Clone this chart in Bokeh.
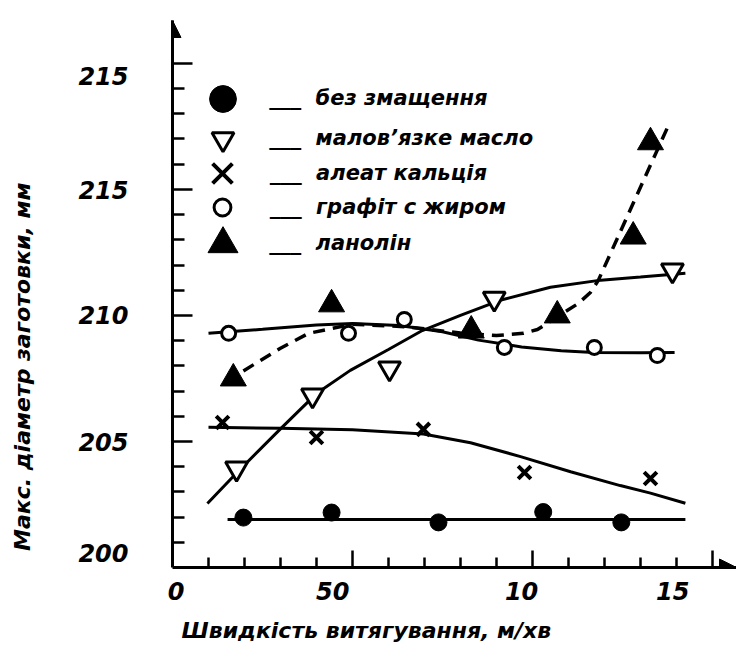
from bokeh.plotting import figure
from bokeh.models import (LinearAxis, FixedTicker, Range1d, Legend, LegendItem,
                          Arrow, NormalHead)
from bokeh.embed import file_html
from bokeh.resources import INLINE

# ---------------- data ----------------
# без змащення (filled circles)
nolub_x = [1.97, 4.42, 7.39, 10.3, 12.47]
nolub_y = [201.98, 202.18, 201.79, 202.2, 201.79]
nolub_fit_x = [1.53, 14.25]
nolub_fit_y = [201.9, 201.9]

# малов'язке масло (open down-triangles)
oil_x = [1.78, 3.89, 6.03, 8.94, 13.89]
oil_y = [203.93, 206.83, 207.9, 210.67, 211.79]
oil_fit_x = [0.97, 1.78, 3.0, 4.0, 4.94, 6.0, 6.94, 8.0, 9.1, 10.5, 11.9, 13.0, 14.25]
oil_fit_y = [202.54, 203.75, 205.5, 206.9, 207.82, 208.65, 209.4, 210.0, 210.6, 211.12, 211.4, 211.52, 211.67]

# алеат кальція (crosses)
ca_x = [1.39, 4.0, 6.97, 9.78, 13.28]
ca_y = [205.75, 205.16, 205.48, 203.77, 203.53]
ca_fit_x = [1.0, 3.0, 5.0, 6.97, 8.28, 9.67, 11.06, 12.44, 13.28, 14.25]
ca_fit_y = [205.56, 205.52, 205.46, 205.3, 204.95, 204.4, 203.8, 203.25, 202.95, 202.55]

# графіт с жиром (open circles)
gr_x = [1.56, 4.89, 6.44, 9.22, 11.72, 13.47]
gr_y = [209.29, 209.29, 209.84, 208.73, 208.73, 208.41]
gr_fit_x = [1.0, 2.5, 4.0, 5.0, 6.3, 7.5, 8.5, 9.7, 10.8, 11.7, 13.0, 13.95]
gr_fit_y = [209.29, 209.45, 209.62, 209.68, 209.6, 209.35, 209.02, 208.75, 208.6, 208.53, 208.52, 208.53]

# ланолін (filled triangles, dashed fit)
lan_x = [1.69, 4.42, 8.3, 10.69, 12.8, 13.28]
lan_y = [207.5, 210.44, 209.4, 210.0, 213.13, 216.87]
lan_fit_x = [1.97, 3.0, 3.78, 5.0, 6.5, 8.0, 9.0, 9.75, 10.14, 10.7, 11.28, 11.61, 11.83, 12.8, 13.78]
lan_fit_y = [207.8, 208.7, 209.29, 209.65, 209.55, 209.3, 209.2, 209.29, 209.44, 209.95, 210.48, 210.91, 211.39, 214.45, 217.54]

series_names = ["без змащення", "малов\u2019язке масло", "алеат кальція", "графіт с жиром", "ланолін"]

x_tick_labels = ["0", "50", "10", "15"]
x_label_pos = [0.1, 4.45, 9.7, 13.9]
y_tick_labels = ["200", "205", "210", "215", "215"]
y_label_pos = [200.56, 204.97, 210.02, 214.96, 219.48]

x_title = "Швидкість витягування, м/хв"
y_title = "Макс. діаметр заготовки, мм"

FONT = "DejaVu Sans"
NBSP = "\u00a0"

p = figure(width=736, height=650, x_range=Range1d(0, 15.67), y_range=Range1d(200, 221.7),
           x_axis_type=None, y_axis_type=None, output_backend="svg", toolbar_location=None,
           min_border_left=172, min_border_right=0, min_border_top=20, min_border_bottom=83)
p.outline_line_color = None
p.background_fill_color = "white"

# ---- tick axes (ticks only) ----
y_major = [205, 210, 215, 220]
x_major = [5, 10, 15]
ya = LinearAxis(ticker=FixedTicker(ticks=y_major,
                                   minor_ticks=[v for v in range(201, 220) if v % 5]),
                major_label_overrides={v: "" for v in y_major},
                major_tick_in=20, major_tick_out=0, minor_tick_in=12, minor_tick_out=0,
                major_tick_line_width=2.5, minor_tick_line_width=2.5, axis_line_width=3,
                major_label_text_font_size="1px", major_label_standoff=0)
xa = LinearAxis(ticker=FixedTicker(ticks=x_major,
                                   minor_ticks=[v for v in range(1, 15) if v % 5]),
                major_label_overrides={v: "" for v in x_major},
                major_tick_in=17, major_tick_out=0, minor_tick_in=10, minor_tick_out=0,
                major_tick_line_width=2.5, minor_tick_line_width=2.5, axis_line_width=3,
                major_label_text_font_size="1px", major_label_standoff=0)
p.add_layout(ya, "left")
p.add_layout(xa, "below")

# ---- label axes (tick labels + titles) ----
common = dict(axis_line_color=None, major_tick_line_color=None, minor_tick_line_color=None,
              major_tick_in=0, major_tick_out=0, minor_tick_in=0, minor_tick_out=0,
              major_label_text_font=FONT, major_label_text_font_style="bold italic",
              major_label_text_font_size="24px", major_label_text_color="black",
              axis_label_text_font=FONT, axis_label_text_font_style="bold italic",
              axis_label_text_font_size="22px", axis_label_text_color="black")
# trailing no-break spaces shift the centred titles to where the reference has them
yb = LinearAxis(ticker=FixedTicker(ticks=y_label_pos),
                major_label_overrides={v: t for v, t in zip(y_label_pos, y_tick_labels)},
                major_label_standoff=44, axis_label=y_title + NBSP * 19,
                axis_label_standoff=40, **common)
xb = LinearAxis(ticker=FixedTicker(ticks=x_label_pos),
                major_label_overrides={v: t for v, t in zip(x_label_pos, x_tick_labels)},
                major_label_standoff=14, axis_label=x_title + NBSP * 23,
                axis_label_standoff=15, **common)
p.add_layout(yb, "left")
p.add_layout(xb, "below")

# ---- axis arrows ----
p.add_layout(Arrow(end=NormalHead(size=17, fill_color="black", line_color="black", line_width=1),
                   x_start=0, y_start=220.5, x_end=0, y_end=221.7, line_width=3))
p.add_layout(Arrow(end=NormalHead(size=17, fill_color="black", line_color="black", line_width=1),
                   x_start=15.0, y_start=200, x_end=15.67, y_end=200, line_width=3))

# ---- fitted curves ----
LW = 3
p.line(nolub_fit_x, nolub_fit_y, line_color="black", line_width=LW)
p.line(oil_fit_x, oil_fit_y, line_color="black", line_width=LW)
p.line(ca_fit_x, ca_fit_y, line_color="black", line_width=LW)
p.line(gr_fit_x, gr_fit_y, line_color="black", line_width=LW)
p.line(lan_fit_x, lan_fit_y, line_color="black", line_width=3.5, line_dash="12 8")

# ---- markers ----
r1 = p.scatter(nolub_x, nolub_y, marker="circle", size=17, fill_color="black", line_color="black")
r2 = p.scatter(oil_x, oil_y, marker="inverted_triangle", size=22, fill_color="white",
               line_color="black", line_width=3)
r3 = p.scatter(ca_x, ca_y, marker="x", size=18, line_color="black", line_width=4)
r4 = p.scatter(gr_x, gr_y, marker="circle", size=14, fill_color="white", line_color="black",
               line_width=3)
r5 = p.scatter(lan_x, lan_y, marker="triangle", size=26, fill_color="black", line_color="black")

# ---- legend: one legend per row (row centre in px from frame top, glyph box size) ----
row_centres = [78, 118, 153, 187, 223]
glyph_boxes = [67, 55, 70, 42, 75]
marker_cx = 50      # px right of frame left edge
label_x = 98        # px right of frame left edge
frame_h = 547
for name, r, yc, gw in zip(series_names, [r1, r2, r3, r4, r5], row_centres, glyph_boxes):
    lg = Legend(items=[LegendItem(label="___  " + name, renderers=[r])],
                location=(marker_cx - gw / 2, frame_h - yc - gw / 2),
                glyph_width=gw, glyph_height=gw,
                label_standoff=int(label_x - marker_cx - gw / 2),
                padding=0, margin=0, border_line_color=None, background_fill_alpha=0,
                label_text_font=FONT, label_text_font_style="bold italic",
                label_text_font_size="21px", label_text_color="black",
                label_text_baseline="alphabetic")
    p.add_layout(lg)

open("out.html", "w").write(file_html(p, INLINE))
